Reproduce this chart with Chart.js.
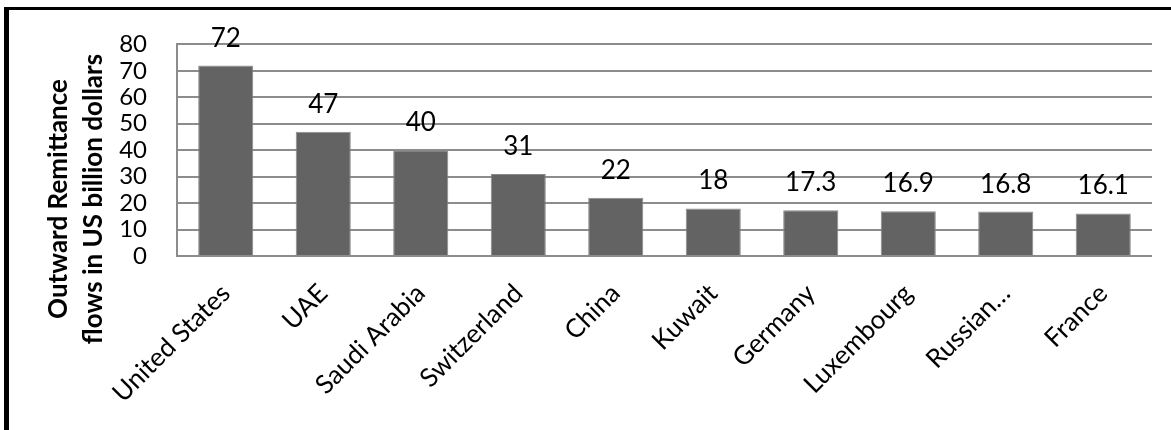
<!DOCTYPE html>
<html>
<head>
<meta charset="utf-8">
<script src="https://cdn.jsdelivr.net/npm/chart.js@4.4.1/dist/chart.umd.min.js"></script>
<style>
  html, body { margin: 0; padding: 0; background: #fff; }
  #wrap { position: relative; width: 1171px; height: 430px; }
  #frame {
    position: absolute; left: 4px; top: 7px; right: 0; height: 420px;
    border-left: 5px solid #000; border-top: 3px solid #000; border-bottom: 2px solid #000;
    pointer-events: none;
  }
</style>
</head>
<body>
<div id="wrap">
  <canvas id="remitChart" width="1171" height="430"></canvas>
  <div id="frame"></div>
</div>
<script>
// Outward remittance flows by country (US$ billion)
const countries = ['United States', 'UAE', 'Saudi Arabia', 'Switzerland', 'China',
  'Kuwait', 'Germany', 'Luxembourg', 'Russian\u2026', 'France'];
const outflows = [72, 47, 40, 31, 22, 18, 17.3, 16.9, 16.8, 16.1];
const yTicks = [0, 10, 20, 30, 40, 50, 60, 70, 80];
const yTitle = ['Outward Remittance', 'flows in US billion dollars'];

const FONT = 'Lato, "Open Sans", sans-serif';

// value labels above each bar
const valueLabels = {
  id: 'valueLabels',
  afterDatasetsDraw(chart) {
    const ctx = chart.ctx;
    const meta = chart.getDatasetMeta(0);
    ctx.save();
    ctx.font = '26px ' + FONT;
    ctx.fillStyle = '#000';
    ctx.textAlign = 'center';
    ctx.textBaseline = 'alphabetic';
    meta.data.forEach((bar, i) => {
      ctx.fillText(String(outflows[i]), bar.x, bar.y - 19);
    });
    ctx.restore();
  }
};

// two-line rotated y-axis title
const axisTitle = {
  id: 'axisTitle',
  afterDraw(chart) {
    const ctx = chart.ctx;
    ctx.save();
    ctx.font = 'bold 26px ' + FONT;
    ctx.fillStyle = '#000';
    ctx.textAlign = 'center';
    ctx.textBaseline = 'middle';
    [59, 94].forEach((x, i) => {
      ctx.save();
      ctx.translate(x, 199);
      ctx.rotate(-Math.PI / 2);
      ctx.fillText(yTitle[i], 0, 0);
      ctx.restore();
    });
    ctx.restore();
  }
};

new Chart(document.getElementById('remitChart'), {
  type: 'bar',
  data: {
    labels: countries,
    datasets: [{
      data: outflows,
      backgroundColor: '#636363',
      borderColor: '#8a8a8a',
      borderWidth: 1,
      barPercentage: 0.565,
      categoryPercentage: 1
    }]
  },
  options: {
    responsive: false,
    animation: false,
    layout: { padding: { top: 38, right: 19, left: 0, bottom: 0 } },
    plugins: { legend: { display: false }, tooltip: { enabled: false } },
    scales: {
      x: {
        afterFit: s => { s.height = 174; },
        grid: { display: false },
        border: { display: false },
        ticks: {
          color: '#000',
          font: { family: FONT, size: 26 },
          minRotation: 45, maxRotation: 45,
          autoSkip: false,
          padding: 14
        }
      },
      y: {
        min: 0, max: 80,
        afterFit: s => { s.width = 177; },
        afterBuildTicks: s => { s.ticks = yTicks.map(v => ({ value: v })); },
        grid: { color: '#8c8c8c', lineWidth: 2, drawTicks: false },
        border: { display: true, color: '#8c8c8c', width: 2 },
        ticks: {
          color: '#000',
          font: { family: FONT, size: 24 },
          autoSkip: false,
          padding: 30
        }
      }
    }
  },
  plugins: [valueLabels, axisTitle]
});
</script>
</body>
</html>
